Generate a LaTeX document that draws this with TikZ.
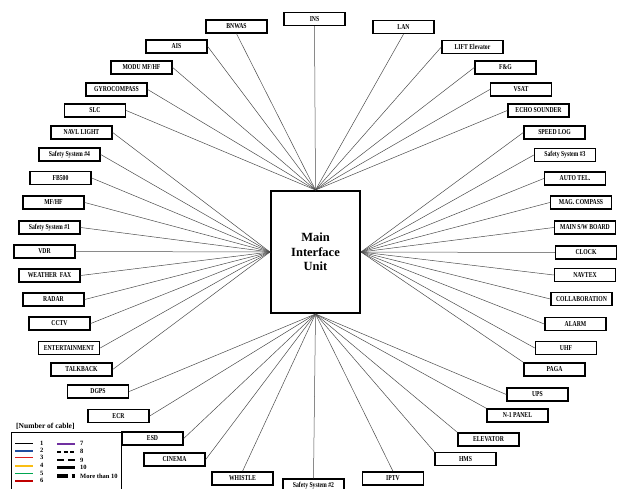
\documentclass[tikz,border=0pt]{standalone}
\usepackage{fontspec}
\setmainfont{Liberation Serif}
\newfontfamily\boxfont[FakeStretch=0.76]{Liberation Serif}
\definecolor{cblue}{RGB}{31,78,160}
\definecolor{cred}{RGB}{220,30,30}
\definecolor{corange}{RGB}{250,190,20}
\definecolor{cgreen}{RGB}{0,166,80}
\definecolor{cdred}{RGB}{192,0,0}
\definecolor{cpurple}{RGB}{112,48,160}
\begin{document}
\begin{tikzpicture}[x=1pt,y=-1pt,
  box/.style={draw, line width=1.4pt, minimum width=61pt, minimum height=13pt, inner sep=0pt,
    font=\boxfont\bfseries\fontsize{7.5}{7.5}\selectfont},
  link/.style={draw=black!70, line width=0.5pt},
  legnum/.style={anchor=west, inner sep=0pt, font=\bfseries\fontsize{6.5}{7}\selectfont},
  legline/.style={line width=1.6pt}]
\useasboundingbox (0,0) rectangle (618,489);

% main unit
\node[draw, line width=2pt, minimum width=89pt, minimum height=122pt, align=center,
  font=\bfseries\fontsize{12.5}{14.5}\selectfont] (miu) at (315.5,252) {Main\\Interface\\Unit};

% top group
\node[box] (ins) at (314.5,19) {INS};
\node[box] (bnwas) at (236.5,26.5) {BNWAS};
\node[box] (ais) at (176.5,46.5) {AIS};
\node[box] (modu) at (141.5,67.5) {MODU MF/HF};
\node[box] (gyro) at (116.5,89.5) {GYROCOMPASS};
\node[box] (slc) at (95,110.5) {SLC};
\node[box] (lan) at (403.5,27) {LAN};
\node[box] (lift) at (472.5,47) {LIFT Elevator};
\node[box] (fg) at (505.5,67.5) {F\&G};
\node[box] (vsat) at (521,89.5) {VSAT};
\node[box] (echo) at (538.5,110.5) {ECHO SOUNDER};

% left group
\node[box] (navl) at (81.5,132.5) {NAVL LIGHT};
\node[box] (ss4) at (69.5,154.5) {Safety System \#4};
\node[box] (fb) at (60.5,178) {FB500};
\node[box] (mfhf) at (53.5,202.5) {MF/HF};
\node[box] (ss1) at (49.5,227.5) {Safety System \#1};
\node[box] (vdr) at (44.5,251.5) {VDR};
\node[box] (wfax) at (49.5,275.5) {WEATHER\ \ FAX};
\node[box] (radar) at (53.5,299.5) {RADAR};
\node[box] (cctv) at (59.5,323.5) {CCTV};
\node[box] (ent) at (69,348) {ENTERTAINMENT};
\node[box] (talk) at (81.5,369.5) {TALKBACK};

% right group
\node[box] (speed) at (554.5,132.5) {SPEED LOG};
\node[box] (ss3) at (565,155) {Safety System \#3};
\node[box] (auto) at (575,178.5) {AUTO TEL.};
\node[box] (mag) at (581,202.5) {MAG.\ COMPASS};
\node[box] (mains) at (585,227.5) {MAIN S/W BOARD};
\node[box] (clock) at (586,252.5) {CLOCK};
\node[box] (navtex) at (585,275) {NAVTEX};
\node[box] (collab) at (581.5,299) {COLLABORATION};
\node[box] (alarm) at (575.5,324) {ALARM};
\node[box] (uhf) at (566,348) {UHF};
\node[box] (paga) at (554.5,369.5) {PAGA};

% bottom group
\node[box] (dgps) at (98,391.5) {DGPS};
\node[box] (ecr) at (118.5,416) {ECR};
\node[box] (esd) at (152.5,438.5) {ESD};
\node[box] (cinema) at (174.5,459.5) {CINEMA};
\node[box] (whistle) at (242.5,478.5) {WHISTLE};
\node[box] (ss2) at (313.5,485.5) {Safety System \#2};
\node[box] (iptv) at (393,478.5) {IPTV};
\node[box] (hms) at (465.5,459) {HMS};
\node[box] (elev) at (488.5,439.5) {ELEVATOR};
\node[box] (n1) at (517.5,415.5) {N-1 PANEL};
\node[box] (ups) at (537.5,394.5) {UPS};

% connectors top
\draw[link] (ins.south) -- (miu.north);
\draw[link] (bnwas.south) -- (miu.north);
\draw[link] (ais.east) -- (miu.north);
\draw[link] (modu.east) -- (miu.north);
\draw[link] (gyro.east) -- (miu.north);
\draw[link] (slc.east) -- (miu.north);
\draw[link] (lan.south) -- (miu.north);
\draw[link] (lift.west) -- (miu.north);
\draw[link] (fg.west) -- (miu.north);
\draw[link] (vsat.west) -- (miu.north);
\draw[link] (echo.west) -- (miu.north);
% connectors left
\foreach \n in {navl,ss4,fb,mfhf,ss1,vdr,wfax,radar,cctv,ent,talk}
  \draw[link] (\n.east) -- (miu.west);
% connectors right
\foreach \n in {speed,ss3,auto,mag,mains,clock,navtex,collab,alarm,uhf}
  \draw[link] (\n.west) -- (miu.east);
\draw[link] (paga.north west) -- (miu.east);
% connectors bottom
\foreach \n in {dgps,ecr,esd,cinema}
  \draw[link] (\n.east) -- (miu.south);
\foreach \n in {whistle,ss2,iptv}
  \draw[link] (\n.north) -- (miu.south);
\foreach \n in {hms,elev,n1}
  \draw[link] (\n.north west) -- (miu.south);
\draw[link] (ups.west) -- (miu.south);

% legend
\node[anchor=west, inner sep=0pt, font=\bfseries\fontsize{7.5}{8}\selectfont] (legtitle) at (16,426) {[Number of cable]};
\draw[line width=0.8pt] (11,492) |- (121,432) -- (121,492);
\draw[legline, black] (15,443.3) -- (33,443.3);
\draw[legline, cblue] (15,450.7) -- (33,450.7);
\draw[legline, cred] (15,457.5) -- (33,457.5);
\draw[legline, corange] (15,465.7) -- (33,465.7);
\draw[legline, cgreen] (15,473.3) -- (33,473.3);
\draw[legline, cdred] (15,480.7) -- (33,480.7);
\node[legnum] at (40,443.3) {1};
\node[legnum] at (40,450.7) {2};
\node[legnum] at (40,457.5) {3};
\node[legnum] at (40,465.7) {4};
\node[legnum] at (40,473.3) {5};
\node[legnum] at (40,480.7) {6};
\draw[legline, cpurple] (57,443.7) -- (75,443.7);
\draw[line width=1.8pt, dash pattern=on 4pt off 2.5pt] (57,451.7) -- (75,451.7);
\draw[line width=1.8pt, dash pattern=on 7pt off 4pt] (57,460) -- (75,460);
\draw[line width=3.5pt] (57,467.7) -- (75,467.7);
\draw[line width=3.5pt, dash pattern=on 11pt off 3.5pt on 3.5pt off 10pt] (57,476) -- (75,476);
\node[legnum] at (80,443.7) {7};
\node[legnum] at (80,451.7) {8};
\node[legnum] at (80,460) {9};
\node[legnum] at (80,467.7) {10};
\node[legnum] at (80,476) {More than 10};
\end{tikzpicture}
\end{document}
